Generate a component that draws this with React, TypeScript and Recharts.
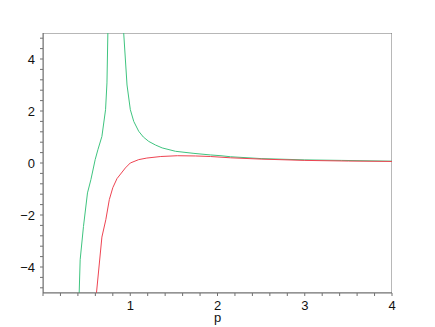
import React from 'react';
import { LineChart, Line, XAxis, YAxis, ReferenceArea } from 'recharts';

// Green curve, left branch (p, value)
const greenLeftP = [0.412, 0.426, 0.464, 0.51, 0.549, 0.598, 0.629, 0.675, 0.717, 0.733, 0.745];
const greenLeftY = [-5.3, -3.72, -2.44, -1.15, -0.64, 0.13, 0.51, 1.02, 2.05, 3.08, 5.3];

// Green curve, right branch
const greenRightP = [0.921, 0.963, 1.001, 1.04, 1.097, 1.15, 1.212, 1.29, 1.366, 1.519, 1.73, 1.92, 2.04, 2.15, 2.5, 3.0, 3.42, 4.0];
const greenRightY = [5.2, 3.0, 2.05, 1.6, 1.22, 1.0, 0.83, 0.69, 0.58, 0.45, 0.37, 0.31, 0.28, 0.24, 0.17, 0.12, 0.1, 0.07];

// Red curve
const redP = [0.607, 0.675, 0.72, 0.76, 0.8, 0.848, 0.944, 1.0, 1.097, 1.19, 1.35, 1.54, 1.75, 1.92, 2.15, 2.5, 3.0, 3.5, 4.0];
const redY = [-5.2, -2.85, -2.18, -1.41, -0.95, -0.6, -0.19, 0.0, 0.13, 0.19, 0.25, 0.28, 0.27, 0.25, 0.2, 0.15, 0.1, 0.075, 0.06];

// Axis ticks
const xTicks = [0, 0.2, 0.4, 0.6, 0.8, 1, 1.2, 1.4, 1.6, 1.8, 2, 2.2, 2.4, 2.6, 2.8, 3, 3.2, 3.4, 3.6, 3.8, 4];
const xLabels = [1, 2, 3, 4];
const yTicks = [-4.8, -4.4, -4, -3.6, -3.2, -2.8, -2.4, -2, -1.6, -1.2, -0.8, -0.4, 0, 0.4, 0.8, 1.2, 1.6, 2, 2.4, 2.8, 3.2, 3.6, 4, 4.4, 4.8];
const yLabels = [-4, -2, 0, 2, 4];
const xTitle = 'p';

const zip = (ps: number[], ys: number[]) => ps.map((p, i) => ({ p, y: ys[i] }));
const greenLeft = zip(greenLeftP, greenLeftY);
const greenRight = zip(greenRightP, greenRightY);
const red = zip(redP, redY);

const near = (v: number, list: number[]) => list.some((l) => Math.abs(l - v) < 1e-6);
const fmt = (v: number) => (v < 0 ? '\u2212' + Math.abs(v) : String(v));

const AXIS = '#707070';
const FONT = '"Liberation Sans", Arial, sans-serif';
const GREEN = '#3fc47f';
const RED = '#ee4452';

export default function App() {
  return (
    <div style={{ position: 'absolute', left: 0, top: 0 }}>
      <LineChart width={435} height={327} margin={{ top: 33, right: 43, left: 0, bottom: 0 }}>
        <XAxis
          type="number"
          dataKey="p"
          domain={[0, 4]}
          ticks={xTicks}
          allowDataOverflow
          height={34}
          stroke={AXIS}
          tickSize={3}
          tickMargin={5}
          interval={0}
          tick={{ fill: '#111', fontSize: 13, fontFamily: FONT }}
          tickFormatter={(v: number) => (near(v, xLabels) ? String(v) : '')}
          label={({ viewBox }: any) => (
            <text
              x={viewBox.x + viewBox.width / 2}
              y={322}
              textAnchor="middle"
              fontSize={13}
              fontFamily={FONT}
              fill="#111"
            >
              {xTitle}
            </text>
          )}
        />
        <YAxis
          type="number"
          dataKey="y"
          domain={[-5, 5]}
          ticks={yTicks}
          allowDataOverflow
          width={43}
          stroke={AXIS}
          tickSize={3}
          tickMargin={5}
          interval={0}
          tick={{ fill: '#111', fontSize: 13, fontFamily: FONT }}
          tickFormatter={(v: number) => (near(v, yLabels) ? fmt(Math.round(v)) : '')}
        />
        <ReferenceArea x1={0} x2={4} y1={-5} y2={5} fill="none" stroke={AXIS} strokeWidth={1} ifOverflow="hidden" />
        <Line data={greenLeft} dataKey="y" stroke={GREEN} strokeWidth={1} dot={false} isAnimationActive={false} />
        <Line data={greenRight} dataKey="y" stroke={GREEN} strokeWidth={1} dot={false} isAnimationActive={false} />
        <Line data={red} dataKey="y" stroke={RED} strokeWidth={1} dot={false} isAnimationActive={false} />
      </LineChart>
    </div>
  );
}
